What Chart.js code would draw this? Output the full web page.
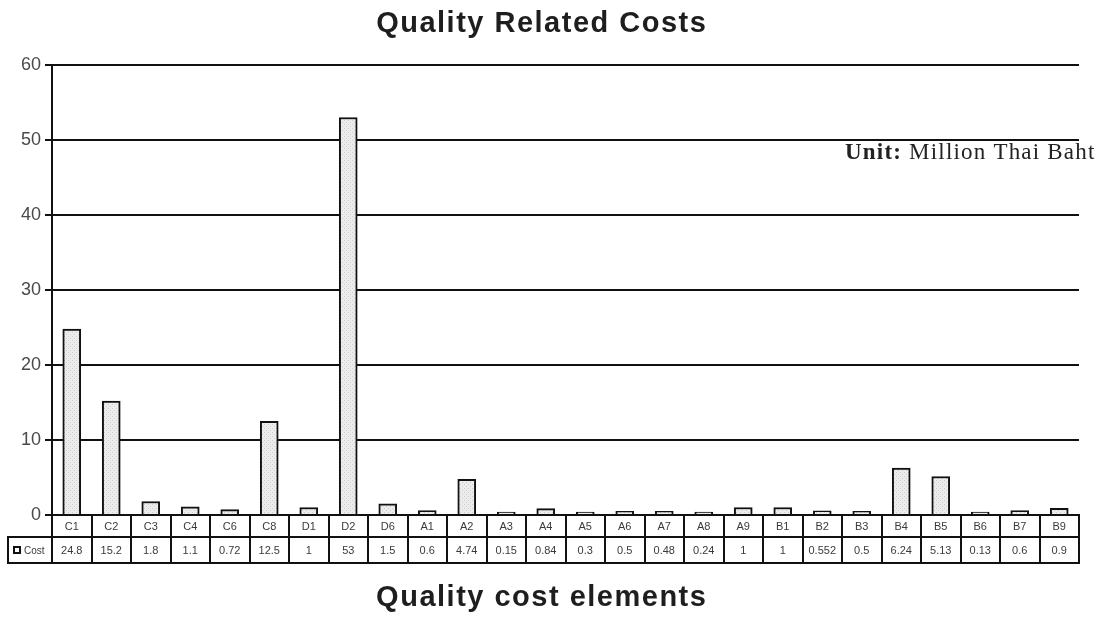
<!DOCTYPE html>
<html>
<head>
<meta charset="utf-8">
<style>
  html, body { margin: 0; padding: 0; background: #fff; }
  #wrap { width: 1111px; height: 620px; position: relative; }
</style>
<script src="https://cdn.jsdelivr.net/npm/chart.js@4.4.1/dist/chart.umd.min.js"></script>
</head>
<body>
<div id="wrap"><canvas id="chart" width="1111" height="620"></canvas></div>
<script>
// Quality cost elements and their costs (million Thai Baht)
const categories = ['C1','C2','C3','C4','C6','C8','D1','D2','D6',
                    'A1','A2','A3','A4','A5','A6','A7','A8','A9',
                    'B1','B2','B3','B4','B5','B6','B7','B9'];
const costValues = [24.8, 15.2, 1.8, 1.1, 0.72, 12.5, 1, 53, 1.5,
                    0.6, 4.74, 0.15, 0.84, 0.3, 0.5, 0.48, 0.24, 1,
                    1, 0.552, 0.5, 6.24, 5.13, 0.13, 0.6, 0.9];
const seriesName = 'Cost';
const yTicks = [0, 10, 20, 30, 40, 50, 60];
const chartTitle = 'Quality Related Costs';
const axisTitle = 'Quality cost elements';
const unitLabel = 'Unit:';
const unitText = ' Million Thai Baht';

// light stippled fill for the bars
function stipple() {
  const c = document.createElement('canvas');
  c.width = 4; c.height = 4;
  const g = c.getContext('2d');
  g.fillStyle = '#ececec';
  g.fillRect(0, 0, 4, 4);
  g.fillStyle = '#cdcdcd';
  g.fillRect(0, 0, 1, 1);
  g.fillRect(2, 2, 1, 1);
  return g.createPattern(c, 'repeat');
}

const SANS = '"Liberation Sans", Arial, sans-serif';
const SERIF = '"Liberation Serif", "Times New Roman", serif';

// titles, unit note and the data table under the category axis
const decorations = {
  id: 'decorations',
  afterDraw(chart) {
    const ctx = chart.ctx;
    const area = chart.chartArea;
    const n = categories.length;
    const colW = (area.right - area.left) / n;
    const top = area.bottom;
    const mid = top + 22;
    const bot = top + 48;
    const tableLeft = 8;

    ctx.save();
    // titles
    ctx.fillStyle = '#1e1e1e';
    ctx.textAlign = 'left';
    ctx.textBaseline = 'middle';
    ctx.font = 'bold 29px ' + SANS;
    ctx.letterSpacing = '1.5px';
    const drawCentered = (txt, cx, cy) => {
      const tw = ctx.measureText(txt).width - 1.5;
      ctx.fillText(txt, cx - tw / 2, cy);
    };
    drawCentered(chartTitle, 541, 24);
    drawCentered(axisTitle, 541, 598);

    // unit note
    ctx.textBaseline = 'alphabetic';
    ctx.fillStyle = '#222';
    ctx.letterSpacing = '1.2px';
    ctx.font = 'bold 23px ' + SERIF;
    ctx.fillText(unitLabel, 845, 159);
    const w = ctx.measureText(unitLabel).width;
    ctx.font = '23px ' + SERIF;
    ctx.fillText(unitText, 845 + w, 159);
    ctx.letterSpacing = '0px';

    // table grid
    ctx.strokeStyle = '#111';
    ctx.lineWidth = 2;
    ctx.beginPath();
    ctx.moveTo(area.left, top); ctx.lineTo(area.right + 1, top);
    ctx.moveTo(tableLeft, mid); ctx.lineTo(area.right + 1, mid);
    ctx.moveTo(tableLeft, bot); ctx.lineTo(area.right + 1, bot);
    ctx.moveTo(tableLeft, mid - 1); ctx.lineTo(tableLeft, bot + 1);
    for (let i = 0; i <= n; i++) {
      const x = Math.round(area.left + i * colW);
      ctx.moveTo(x, top - 1); ctx.lineTo(x, bot + 1);
    }
    ctx.stroke();

    // table text
    ctx.fillStyle = '#3a3a3a';
    ctx.font = '11px ' + SANS;
    ctx.textAlign = 'center';
    ctx.textBaseline = 'middle';
    categories.forEach((c, i) => {
      const cx = chart.scales.x.getPixelForValue(i);
      ctx.fillText(c, cx, (top + mid) / 2 + 1);
      ctx.fillText(String(costValues[i]), cx, (mid + bot) / 2 + 1);
    });

    // legend key in the row header
    const ky = (mid + bot) / 2;
    ctx.fillStyle = '#111';
    ctx.fillRect(13, ky - 4, 8, 8);
    ctx.fillStyle = '#fff';
    ctx.fillRect(15, ky - 2, 4, 4);
    ctx.fillStyle = '#3a3a3a';
    ctx.textAlign = 'left';
    ctx.font = '10px ' + SANS;
    ctx.fillText(seriesName, 24, ky + 1);
    ctx.restore();
  }
};

new Chart(document.getElementById('chart'), {
  type: 'bar',
  data: {
    labels: categories,
    datasets: [{
      label: seriesName,
      data: costValues,
      backgroundColor: stipple(),
      borderColor: '#111',
      borderWidth: 2,
      borderSkipped: 'bottom',
      barThickness: 18,
      minBarLength: 3
    }]
  },
  options: {
    responsive: false,
    animation: false,
    events: [],
    layout: { padding: { top: 65, right: 32, bottom: 105, left: 0 } },
    plugins: {
      legend: { display: false },
      title: { display: false },
      tooltip: { enabled: false }
    },
    scales: {
      x: {
        display: false,
        offset: true
      },
      y: {
        min: yTicks[0],
        max: yTicks[yTicks.length - 1],
        afterBuildTicks(scale) { scale.ticks = yTicks.map(v => ({ value: v })); },
        afterFit(scale) { scale.width = 52; },
        ticks: {
          color: '#4a4a4a',
          padding: 4,
          font: { size: 18, family: SANS }
        },
        grid: { color: '#111', lineWidth: 2, tickLength: 7 },
        border: { color: '#111', width: 2 }
      }
    }
  },
  plugins: [decorations]
});
</script>
</body>
</html>
